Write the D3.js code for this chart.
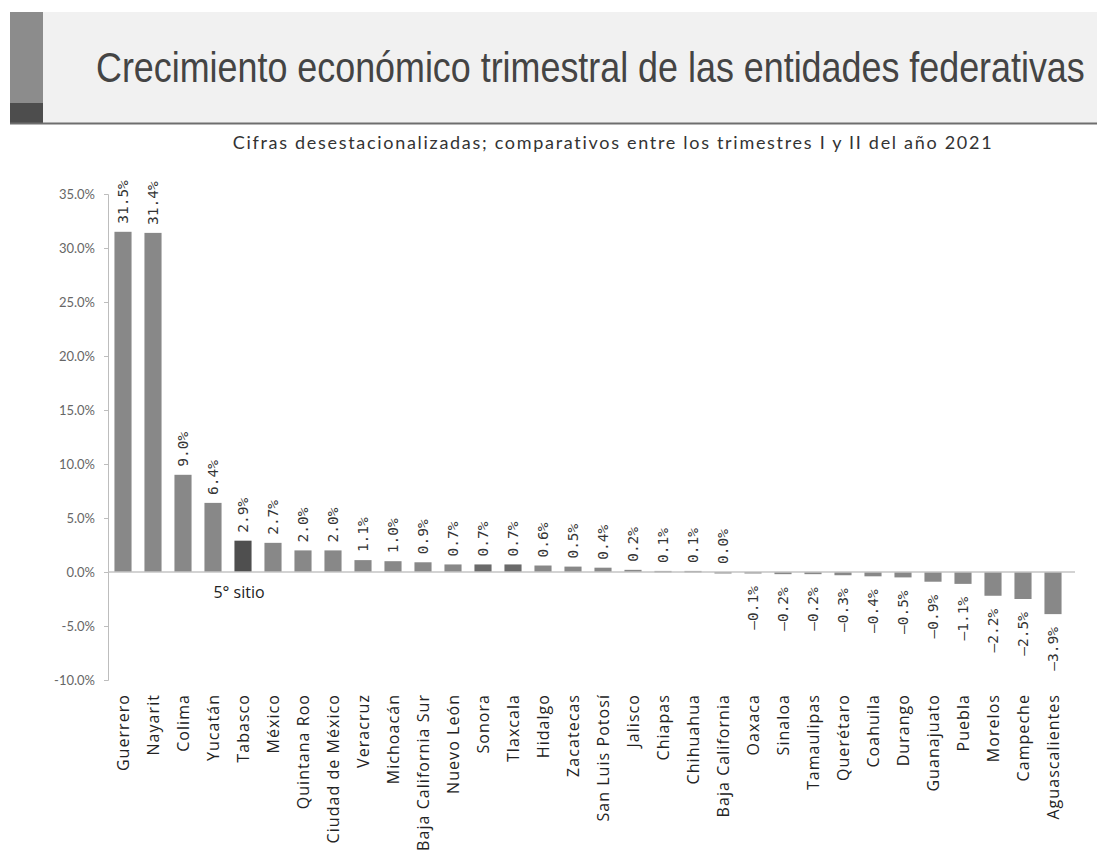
<!DOCTYPE html>
<html>
<head>
<meta charset="utf-8">
<script src="https://cdn.jsdelivr.net/npm/d3@7"></script>
<style>
  body { margin: 0; background: #fff; }
  svg { display: block; }
</style>
</head>
<body>
<svg width="1097" height="859"></svg>
<script>
// states in the order shown, with quarterly growth (%)
const states = ["Guerrero", "Nayarit", "Colima", "Yucatán", "Tabasco", "México", "Quintana Roo",
    "Ciudad de México", "Veracruz", "Michoacán", "Baja California Sur", "Nuevo León", "Sonora",
    "Tlaxcala", "Hidalgo", "Zacatecas", "San Luis Potosí", "Jalisco", "Chiapas", "Chihuahua",
    "Baja California", "Oaxaca", "Sinaloa", "Tamaulipas", "Querétaro", "Coahuila", "Durango",
    "Guanajuato", "Puebla", "Morelos", "Campeche", "Aguascalientes"];
const growth = [31.5, 31.4, 9.0, 6.4, 2.9, 2.7, 2.0, 2.0, 1.1, 1.0, 0.9, 0.7, 0.7, 0.7, 0.6, 0.5,
    0.4, 0.2, 0.1, 0.1, 0.0, -0.1, -0.2, -0.2, -0.3, -0.4, -0.5, -0.9, -1.1, -2.2, -2.5, -3.9];
const yTicks = [35, 30, 25, 20, 15, 10, 5, 0, -5, -10];
const highlighted = "Tabasco";
const darker = ["Sonora", "Tlaxcala"];

const title = "Crecimiento económico trimestral de las entidades federativas";
const subtitle = "Cifras desestacionalizadas; comparativos entre los trimestres I y II del año 2021";

const data = states.map((s, i) => ({ name: s, value: growth[i] }));

const svg = d3.select('svg');

// header band
svg.append('rect').attr('x', 10).attr('y', 12).attr('width', 1087).attr('height', 111)
    .style('fill', '#f1f1f1');
svg.append('rect').attr('x', 10).attr('y', 12).attr('width', 33).attr('height', 91)
    .style('fill', '#8c8c8c');
svg.append('rect').attr('x', 10).attr('y', 103).attr('width', 33).attr('height', 20)
    .style('fill', '#4d4d4d');
svg.append('line').attr('x1', 10).attr('x2', 1097).attr('y1', 123.5).attr('y2', 123.5)
    .style('stroke', '#6e6e6e').style('stroke-width', 2);

// title: a narrow grotesque, squeezed to the reference width
const titleText = svg.append('text')
    .attr('x', 0).attr('y', 0)
    .style('font-family', '"Liberation Sans", Arial, sans-serif')
    .style('font-size', '42px')
    .style('fill', '#444')
    .text(title);
const tw = titleText.node().getComputedTextLength();
titleText.attr('transform', `translate(96,82) scale(${989 / tw},1)`);

svg.append('text')
    .attr('x', 613).attr('y', 149)
    .style('font-family', 'Lato, "Open Sans", sans-serif')
    .style('font-size', '18px')
    .style('letter-spacing', '1.7px')
    .style('fill', '#333')
    .style('text-anchor', 'middle')
    .text(subtitle);

// scales
const x = d3.scaleBand().domain(states).range([108, 1068]).paddingInner(0.43).paddingOuter(0.215);
const y = d3.scaleLinear().domain([-10, 35]).range([680, 194]);

const fmtTick = d => d.toFixed(1) + '%';
const fmtVal = d => (d < 0 ? '\u2013' : '') + Math.abs(d).toFixed(1) + '%';

// y axis
const yAxis = svg.append('g')
    .attr('transform', 'translate(108,0)')
    .call(d3.axisLeft(y).tickValues(yTicks).tickFormat(fmtTick).tickSize(4).tickPadding(9));
yAxis.select('.domain').style('stroke', '#bdbdbd');
yAxis.selectAll('.tick line').style('stroke', '#bdbdbd');
yAxis.selectAll('.tick text')
    .style('font-family', 'Lato, sans-serif')
    .style('font-size', '13px')
    .style('fill', '#666');

// bars
svg.selectAll('.bar')
    .data(data)
    .enter()
    .append('rect')
    .attr('class', 'bar')
    .attr('x', d => x(d.name))
    .attr('width', x.bandwidth())
    .attr('y', d => y(Math.max(0, d.value)))
    .attr('height', d => Math.max(1.5, Math.abs(y(d.value) - y(0))))
    .style('fill', d => d.name === highlighted ? '#4f4f4f' : (darker.includes(d.name) ? '#6a6a6a' : '#888'));

// zero line
svg.append('line')
    .attr('x1', 108).attr('x2', 1075)
    .attr('y1', y(0)).attr('y2', y(0))
    .style('stroke', '#c4c4c4').style('stroke-width', 1.5);

// value labels
svg.selectAll('.val')
    .data(data)
    .enter()
    .append('text')
    .attr('class', 'val')
    .attr('transform', d => {
        const cx = x(d.name) + x.bandwidth() / 2;
        const yy = d.value >= 0 ? y(d.value) - 8 : y(d.value) + 13;
        return `translate(${cx + 5},${yy}) rotate(-90)`;
    })
    .style('text-anchor', d => d.value >= 0 ? 'start' : 'end')
    .style('font-family', '"DejaVu Sans Mono", monospace')
    .style('font-size', '14.5px')
    .style('fill', '#333')
    .text(d => fmtVal(d.value));

// category labels
svg.selectAll('.cat')
    .data(data)
    .enter()
    .append('text')
    .attr('class', 'cat')
    .attr('transform', d => `translate(${x(d.name) + x.bandwidth() / 2 + 6},694) rotate(-90)`)
    .style('text-anchor', 'end')
    .style('font-family', '"Open Sans", Lato, sans-serif')
    .style('font-size', '16px')
    .style('letter-spacing', '1.05px')
    .style('fill', '#222')
    .text(d => d.name);

// note under Tabasco
svg.append('text')
    .attr('x', x(highlighted) + x.bandwidth() / 2 - 4)
    .attr('y', 598)
    .style('text-anchor', 'middle')
    .style('font-family', '"Open Sans", Lato, sans-serif')
    .style('font-size', '16px')
    .style('fill', '#222')
    .text('5° sitio');
</script>
</body>
</html>
